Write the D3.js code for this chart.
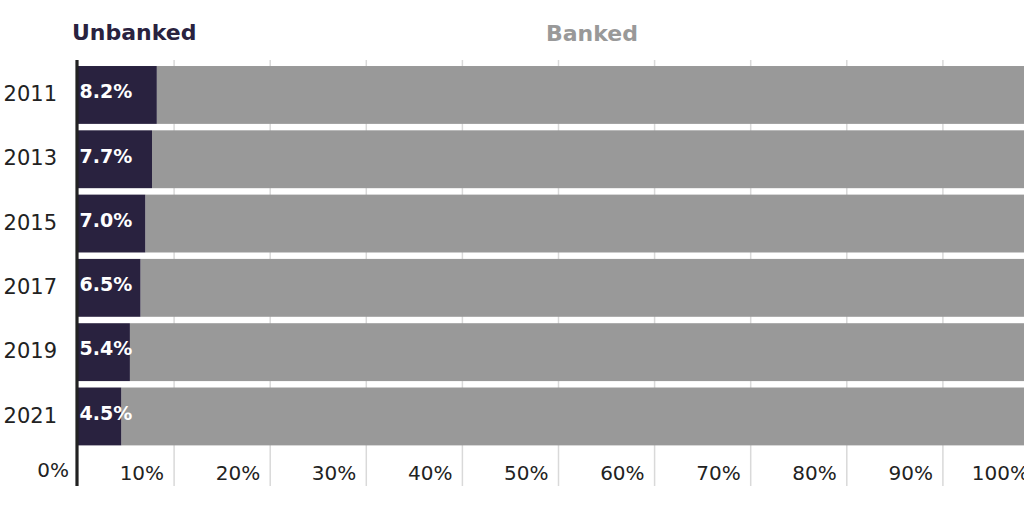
<!DOCTYPE html>
<html>
<head>
  <meta charset="utf-8">
  <title>Unbanked vs banked</title>
  <style>
    body { margin: 0; background: #fff; }
    svg text { font-family: "DejaVu Sans", sans-serif; }
    .year   { font-size: 21px; fill: #222; }
    .tick-label { font-size: 20px; fill: #222; }
    .bar-label  { font-size: 19px; font-weight: bold; fill: #fff; }
    .head   { font-size: 22px; font-weight: bold; }
  </style>
</head>
<body>
<script src="https://d3js.org/d3.v7.min.js"></script>
<script>
// values
var years    = ['2011', '2013', '2015', '2017', '2019', '2021'];
var unbanked = [8.2, 7.7, 7.0, 6.5, 5.4, 4.5];
var banked   = [91.8, 92.3, 93.0, 93.5, 94.6, 95.5];
var ticks    = [10, 20, 30, 40, 50, 60, 70, 80, 90, 100];
var tickLabels = ['10%', '20%', '30%', '40%', '50%', '60%', '70%', '80%', '90%', '100%'];

var rows = years.map((y, i) => ({year: y, unbanked: unbanked[i], banked: banked[i]}));

var svg = d3.select('body').append('svg')
  .attr('width', 1024)
  .attr('height', 512);

var x = d3.scaleLinear().domain([0, 100]).range([78, 1039]);
var y = d3.scaleBand().domain(years)
  .range([62.8, 448.6])
  .paddingInner(0.1)
  .paddingOuter(0.05);

// gridlines (under the bars)
svg.append('g').selectAll('line')
  .data(ticks)
  .enter().append('line')
  .attr('x1', d => x(d)).attr('x2', d => x(d))
  .attr('y1', 60).attr('y2', 486)
  .attr('stroke', '#d9d9d9')
  .attr('stroke-width', 1.5);

// tick labels
svg.append('g').selectAll('text')
  .data(ticks)
  .enter().append('text')
  .attr('class', 'tick-label')
  .attr('x', d => x(d) - 10)
  .attr('y', 480)
  .attr('text-anchor', 'end')
  .text((d, i) => tickLabels[i]);

svg.append('text')
  .attr('class', 'tick-label')
  .attr('x', x(0) - 9)
  .attr('y', 477)
  .attr('text-anchor', 'end')
  .text('0%');

// banked (stacked after unbanked)
svg.append('g').selectAll('rect')
  .data(rows)
  .enter().append('rect')
  .attr('x', d => x(d.unbanked))
  .attr('y', d => y(d.year))
  .attr('width', d => x(d.unbanked + d.banked) - x(d.unbanked))
  .attr('height', y.bandwidth())
  .attr('fill', '#999999');

// unbanked
svg.append('g').selectAll('rect')
  .data(rows)
  .enter().append('rect')
  .attr('x', x(0))
  .attr('y', d => y(d.year))
  .attr('width', d => x(d.unbanked) - x(0))
  .attr('height', y.bandwidth())
  .attr('fill', '#29223f');

svg.append('g').selectAll('text')
  .data(rows)
  .enter().append('text')
  .attr('class', 'bar-label')
  .attr('x', x(0) + 1.5)
  .attr('y', d => y(d.year) + y.bandwidth() / 2 - 3.5)
  .attr('dy', '0.36em')
  .text(d => d.unbanked.toFixed(1) + '%');

// year labels
svg.append('g').selectAll('text')
  .data(years)
  .enter().append('text')
  .attr('class', 'year')
  .attr('x', 57)
  .attr('y', d => y(d) + y.bandwidth() / 2 - 1.5)
  .attr('dy', '0.36em')
  .attr('text-anchor', 'end')
  .text(d => d);

// left axis line
svg.append('line')
  .attr('x1', 77).attr('x2', 77)
  .attr('y1', 60).attr('y2', 486)
  .attr('stroke', '#222')
  .attr('stroke-width', 3.2);

// column headers
svg.append('text')
  .attr('class', 'head')
  .attr('x', 72)
  .attr('y', 40)
  .attr('fill', '#29223f')
  .text('Unbanked');

svg.append('text')
  .attr('class', 'head')
  .attr('x', 546)
  .attr('y', 41)
  .attr('fill', '#999999')
  .text('Banked');
</script>
</body>
</html>
